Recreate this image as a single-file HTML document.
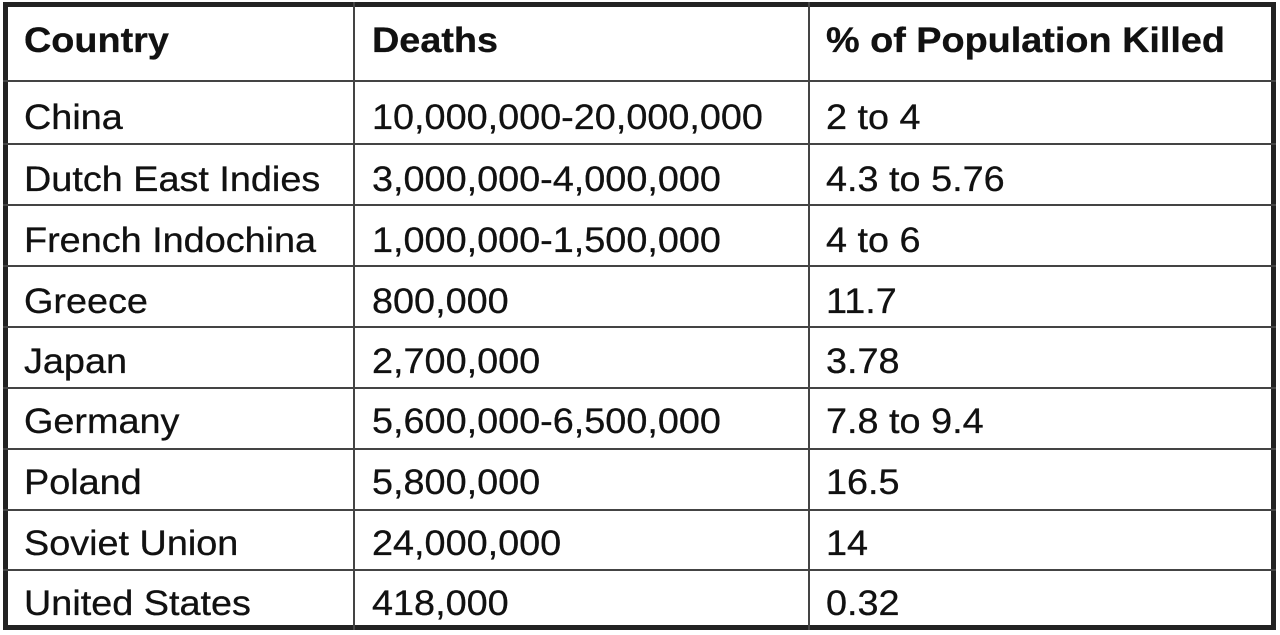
<!DOCTYPE html>
<html><head><style>
html,body{margin:0;padding:0;background:#fff;width:1280px;height:635px;overflow:hidden}
.b{position:absolute;background:#222}
.t{position:absolute;font-family:"Liberation Sans",Arial,sans-serif;font-size:35px;color:#111;white-space:nowrap;line-height:1;transform:scaleX(1.08);transform-origin:0 0;-webkit-text-stroke:0.3px #111}
.h{font-weight:bold}
</style></head><body>
<div class="b" style="left:3px;top:2px;width:1273px;height:5px"></div>
<div class="b" style="left:3px;top:625px;width:1273px;height:5px"></div>
<div class="b" style="left:3px;top:2px;width:5px;height:628px"></div>
<div class="b" style="left:1271px;top:2px;width:5px;height:628px"></div>
<div class="b" style="left:353px;top:2px;width:2px;height:628px;background:#444"></div>
<div class="b" style="left:808px;top:2px;width:2px;height:628px;background:#444"></div>
<div class="b" style="left:3px;top:80px;width:1273px;height:2px;background:#444"></div>
<div class="b" style="left:3px;top:143px;width:1273px;height:2px;background:#444"></div>
<div class="b" style="left:3px;top:204px;width:1273px;height:2px;background:#444"></div>
<div class="b" style="left:3px;top:265px;width:1273px;height:2px;background:#444"></div>
<div class="b" style="left:3px;top:326px;width:1273px;height:2px;background:#444"></div>
<div class="b" style="left:3px;top:387px;width:1273px;height:2px;background:#444"></div>
<div class="b" style="left:3px;top:448px;width:1273px;height:2px;background:#444"></div>
<div class="b" style="left:3px;top:509px;width:1273px;height:2px;background:#444"></div>
<div class="b" style="left:3px;top:569px;width:1273px;height:2px;background:#444"></div>

<div class="t h" style="left:24px;top:23px">Country</div>
<div class="t h" style="left:372px;top:23px">Deaths</div>
<div class="t h" style="left:826px;top:23px">% of Population Killed</div>

<div class="t" style="left:24px;top:100px">China</div><div class="t" style="left:372px;top:100px">10,000,000-20,000,000</div><div class="t" style="left:826px;top:100px">2 to 4</div>
<div class="t" style="left:24px;top:162px">Dutch East Indies</div><div class="t" style="left:372px;top:162px">3,000,000-4,000,000</div><div class="t" style="left:826px;top:162px">4.3 to 5.76</div>
<div class="t" style="left:24px;top:223px">French Indochina</div><div class="t" style="left:372px;top:223px">1,000,000-1,500,000</div><div class="t" style="left:826px;top:223px">4 to 6</div>
<div class="t" style="left:24px;top:284px">Greece</div><div class="t" style="left:372px;top:284px">800,000</div><div class="t" style="left:826px;top:284px">11.7</div>
<div class="t" style="left:24px;top:344px">Japan</div><div class="t" style="left:372px;top:344px">2,700,000</div><div class="t" style="left:826px;top:344px">3.78</div>
<div class="t" style="left:24px;top:404px">Germany</div><div class="t" style="left:372px;top:404px">5,600,000-6,500,000</div><div class="t" style="left:826px;top:404px">7.8 to 9.4</div>
<div class="t" style="left:24px;top:465px">Poland</div><div class="t" style="left:372px;top:465px">5,800,000</div><div class="t" style="left:826px;top:465px">16.5</div>
<div class="t" style="left:24px;top:526px">Soviet Union</div><div class="t" style="left:372px;top:526px">24,000,000</div><div class="t" style="left:826px;top:526px">14</div>
<div class="t" style="left:24px;top:586px">United States</div><div class="t" style="left:372px;top:586px">418,000</div><div class="t" style="left:826px;top:586px">0.32</div>
</body></html>
